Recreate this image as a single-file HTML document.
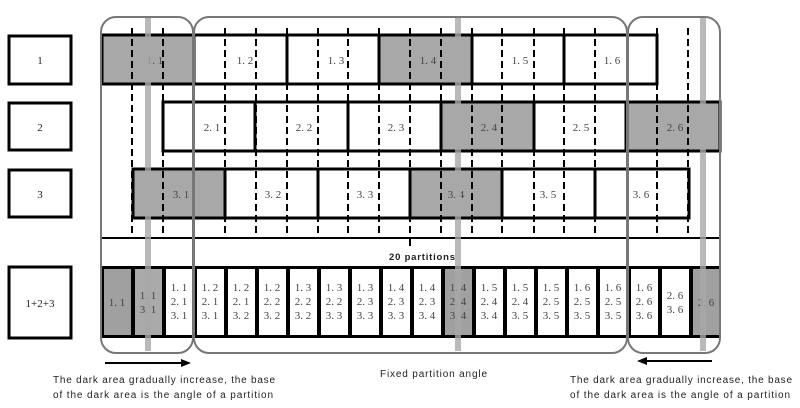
<!DOCTYPE html>
<html><head><meta charset="utf-8"><style>
html,body{margin:0;padding:0;background:#fff;}
svg{display:block;}
.s{font-family:"Liberation Serif",serif;font-size:11px;fill:#444;text-anchor:middle;}
.c{font-family:"Liberation Sans",sans-serif;font-size:10px;fill:#222;}
</style></head><body>
<svg width="800" height="408" viewBox="0 0 800 408" xmlns="http://www.w3.org/2000/svg">
<!-- label boxes -->
<g fill="#fff" stroke="#000" stroke-width="3">
<rect x="9" y="36" width="62" height="48"/>
<rect x="9" y="103" width="62" height="47"/>
<rect x="9" y="170" width="62" height="47"/>
<rect x="9" y="267" width="62" height="71"/>
</g>
<g class="s" style="fill:#222">
<text x="40" y="64">1</text><text x="40" y="131">2</text><text x="40" y="198">3</text><text x="40" y="307">1+2+3</text>
</g>
<!-- row1 -->
<g stroke="#000" stroke-width="3">
<rect x="102" y="35" width="92" height="49" fill="#a8a8a8"/>
<rect x="194" y="35" width="93" height="49" fill="#fff"/>
<rect x="287" y="35" width="92" height="49" fill="#fff"/>
<rect x="379" y="35" width="93" height="49" fill="#a8a8a8"/>
<rect x="472" y="35" width="92" height="49" fill="#fff"/>
<rect x="564" y="35" width="93" height="49" fill="#fff"/>
<!-- row2 -->
<rect x="163" y="102" width="92" height="49" fill="#fff"/>
<rect x="255" y="102" width="93" height="49" fill="#fff"/>
<rect x="348" y="102" width="93" height="49" fill="#fff"/>
<rect x="441" y="102" width="93" height="49" fill="#a8a8a8"/>
<rect x="534" y="102" width="92" height="49" fill="#fff"/>
<rect x="626" y="102" width="94" height="49" fill="#a8a8a8"/>
<!-- row3 -->
<rect x="133" y="169" width="92" height="49" fill="#a8a8a8"/>
<rect x="225" y="169" width="93" height="49" fill="#fff"/>
<rect x="318" y="169" width="92" height="49" fill="#fff"/>
<rect x="410" y="169" width="92" height="49" fill="#a8a8a8"/>
<rect x="502" y="169" width="93" height="49" fill="#fff"/>
<rect x="595" y="169" width="94" height="49" fill="#fff"/>
</g>
<g class="s">
<text x="155" y="64">1. 1</text><text x="245" y="64">1. 2</text><text x="336" y="64">1. 3</text><text x="428" y="64">1. 4</text><text x="520" y="64">1. 5</text><text x="612" y="64">1. 6</text>
<text x="212" y="131">2. 1</text><text x="304" y="131">2. 2</text><text x="396" y="131">2. 3</text><text x="489" y="131">2. 4</text><text x="581" y="131">2. 5</text><text x="675" y="131">2. 6</text>
<text x="181" y="198">3. 1</text><text x="273" y="198">3. 2</text><text x="365" y="198">3. 3</text><text x="456" y="198">3. 4</text><text x="548" y="198">3. 5</text><text x="641" y="198">3. 6</text>
</g>
<!-- dashed lines -->
<g stroke="#000" stroke-width="2" stroke-dasharray="7 4">
<line x1="132" y1="28" x2="132" y2="238"/><line x1="163" y1="28" x2="163" y2="238"/>
<line x1="225" y1="28" x2="225" y2="238"/><line x1="256" y1="28" x2="256" y2="238"/>
<line x1="287" y1="28" x2="287" y2="238"/><line x1="318" y1="28" x2="318" y2="238"/>
<line x1="348" y1="28" x2="348" y2="238"/><line x1="379" y1="28" x2="379" y2="238"/>
<line x1="410" y1="28" x2="410" y2="238"/><line x1="441" y1="28" x2="441" y2="238"/>
<line x1="472" y1="28" x2="472" y2="238"/><line x1="502" y1="28" x2="502" y2="238"/>
<line x1="534" y1="28" x2="534" y2="238"/><line x1="564" y1="28" x2="564" y2="238"/>
<line x1="595" y1="28" x2="595" y2="238"/><line x1="657" y1="28" x2="657" y2="238"/>
<line x1="688" y1="28" x2="688" y2="238"/>
</g>
<line x1="101" y1="238" x2="721" y2="238" stroke="#000" stroke-width="2"/>
<line x1="410" y1="238" x2="410" y2="246" stroke="#000" stroke-width="2"/>
<text x="389" y="260" class="c" style="font-size:9.5px;font-weight:bold" textLength="66">20 partitions</text>
<!-- row 4 -->
<rect x="101" y="266" width="620" height="72" fill="#000"/>
<g fill="#fff">
<rect x="104" y="269" width="27" height="66" fill="#a0a0a0"/>
<rect x="135" y="269" width="27" height="66" fill="#aaa"/>
<rect x="166" y="269" width="27" height="66"/>
<rect x="197" y="269" width="27" height="66"/>
<rect x="228" y="269" width="27" height="66"/>
<rect x="259" y="269" width="27" height="66"/>
<rect x="290" y="269" width="27" height="66"/>
<rect x="321" y="269" width="27" height="66"/>
<rect x="352" y="269" width="27" height="66"/>
<rect x="383" y="269" width="27" height="66"/>
<rect x="414" y="269" width="27" height="66"/>
<rect x="445" y="269" width="27" height="66" fill="#a0a0a0"/>
<rect x="476" y="269" width="27" height="66"/>
<rect x="507" y="269" width="27" height="66"/>
<rect x="538" y="269" width="27" height="66"/>
<rect x="569" y="269" width="27" height="66"/>
<rect x="600" y="269" width="27" height="66"/>
<rect x="631" y="269" width="27" height="66"/>
<rect x="662" y="269" width="27" height="66"/>
<rect x="693" y="269" width="28" height="66" fill="#a0a0a0"/>
</g>
<g class="s">
<text x="117" y="306">1. 1</text>
<text x="148" y="299">1. 1</text><text x="148" y="313">3. 1</text>
<text x="179" y="291">1. 1</text><text x="179" y="305">2. 1</text><text x="179" y="319">3. 1</text>
<text x="210" y="291">1. 2</text><text x="210" y="305">2. 1</text><text x="210" y="319">3. 1</text>
<text x="241" y="291">1. 2</text><text x="241" y="305">2. 1</text><text x="241" y="319">3. 2</text>
<text x="272" y="291">1. 2</text><text x="272" y="305">2. 2</text><text x="272" y="319">3. 2</text>
<text x="303" y="291">1. 3</text><text x="303" y="305">2. 2</text><text x="303" y="319">3. 2</text>
<text x="334" y="291">1. 3</text><text x="334" y="305">2. 2</text><text x="334" y="319">3. 3</text>
<text x="365" y="291">1. 3</text><text x="365" y="305">2. 3</text><text x="365" y="319">3. 3</text>
<text x="396" y="291">1. 4</text><text x="396" y="305">2. 3</text><text x="396" y="319">3. 3</text>
<text x="427" y="291">1. 4</text><text x="427" y="305">2. 3</text><text x="427" y="319">3. 4</text>
<text x="458" y="291">1. 4</text><text x="458" y="305">2. 4</text><text x="458" y="319">3. 4</text>
<text x="489" y="291">1. 5</text><text x="489" y="305">2. 4</text><text x="489" y="319">3. 4</text>
<text x="520" y="291">1. 5</text><text x="520" y="305">2. 4</text><text x="520" y="319">3. 5</text>
<text x="551" y="291">1. 5</text><text x="551" y="305">2. 5</text><text x="551" y="319">3. 5</text>
<text x="582" y="291">1. 6</text><text x="582" y="305">2. 5</text><text x="582" y="319">3. 5</text>
<text x="613" y="291">1. 6</text><text x="613" y="305">2. 5</text><text x="613" y="319">3. 5</text>
<text x="644" y="291">1. 6</text><text x="644" y="305">2. 6</text><text x="644" y="319">3. 6</text>
<text x="675" y="299">2. 6</text><text x="675" y="313">3. 6</text>
<text x="706" y="306">2. 6</text>
</g>
<!-- gray bars -->
<g fill="#a8a8a8" opacity="0.8">
<rect x="145" y="17" width="6" height="334"/>
<rect x="455" y="17" width="6" height="334"/>
<rect x="700" y="17" width="6" height="334"/>
</g>
<!-- brackets -->
<g fill="none" stroke="#777" stroke-width="2">
<rect x="101" y="17" width="92" height="336" rx="15"/>
<rect x="194" y="17" width="433" height="336" rx="15"/>
<rect x="628" y="17" width="92" height="336" rx="15"/>
</g>
<!-- arrows -->
<line x1="105" y1="363" x2="183" y2="363" stroke="#000" stroke-width="2"/>
<polygon points="191,363 181,359 181,367" fill="#000"/>
<line x1="645" y1="361" x2="712" y2="361" stroke="#000" stroke-width="2"/>
<polygon points="637,361 647,357 647,365" fill="#000"/>
<!-- captions -->
<text x="53" y="383" class="c" textLength="222">The dark area gradually increase, the base</text>
<text x="53" y="398" class="c" textLength="220">of the dark area is the angle of a partition</text>
<text x="380" y="377" class="c" textLength="107">Fixed partition angle</text>
<text x="570" y="383" class="c" textLength="222">The dark area gradually increase, the base</text>
<text x="570" y="398" class="c" textLength="220">of the dark area is the angle of a partition</text>
</svg>
</body></html>
